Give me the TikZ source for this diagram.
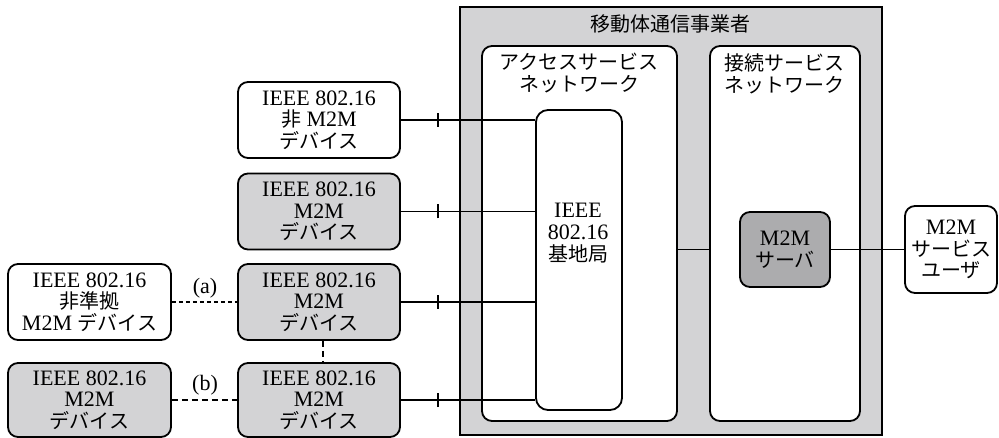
\documentclass[tikz,border=0pt]{standalone}
\usepackage{fontspec}
\setmainfont{Liberation Serif}[Scale=1.1]
\newfontfamily\jp{Noto Sans CJK JP}
\definecolor{lightg}{RGB}{211,211,213}
\definecolor{darkg}{RGB}{172,172,174}
\begin{document}
\begin{tikzpicture}[x=1pt,y=-1pt,
  txt/.style={font=\fontsize{20}{21.7}\selectfont, align=center, inner sep=0pt},
  box/.style={draw, line width=1.8pt, rounded corners=10pt, inner sep=0pt, txt},
  wbox/.style={box, fill=white},
  gbox/.style={box, fill=lightg},
  dev/.style={minimum width=162pt, minimum height=76pt},
  conn/.style={line width=1.8pt},
  dotline/.style={line width=1.8pt, dash pattern=on 4pt off 3pt},
  dashline/.style={line width=1.8pt, dash pattern=on 6pt off 4pt},
  tickmark/.style={line width=1.8pt}
]
\useasboundingbox (0,0) rectangle (999,438);

% operator
\node[draw, line width=1.8pt, fill=lightg, minimum width=422pt, minimum height=428pt, inner sep=0pt] (op) at (671,221) {};
\node[txt] (optitle) at (670,24) {\jp 移動体通信事業者};

% access service network
\node[wbox, minimum width=195pt, minimum height=375pt] (acc) at (579.5,233.5) {};
\node[txt] (acclabel) at (579,73) {\jp アクセスサービス\\\jp ネットワーク};

% connectivity service network
\node[wbox, minimum width=150pt, minimum height=375pt] (con) at (785,233.5) {};
\node[txt] (conlabel) at (784,74) {\jp 接続サービス\\\jp ネットワーク};

% base station
\node[wbox, minimum width=86pt, minimum height=300pt, rounded corners=12pt] (bs) at (579,260) {};
\node[txt] (bslabel) at (578,233) {IEEE\\802.16\\\jp 基地局};

% server and user
\node[box, fill=darkg, minimum width=90pt, minimum height=75pt] (srv) at (785,249.5) {M2M\\\jp サーバ};
\node[wbox, minimum width=92pt, minimum height=87pt] (usr) at (951,249.5) {M2M\\\jp サービス\\\jp ユーザ};

% devices
\node[wbox, dev] (d1) at (319,120) {IEEE 802.16\\{\jp 非} M2M\\\jp デバイス};
\node[gbox, dev] (d2) at (319,211.5) {IEEE 802.16\\M2M\\\jp デバイス};
\node[gbox, dev] (d3) at (319,302) {IEEE 802.16\\M2M\\\jp デバイス};
\node[gbox, dev, minimum height=74pt] (d4) at (319,400) {IEEE 802.16\\M2M\\\jp デバイス};
\node[wbox, dev, minimum width=163pt] (fa) at (89.5,302) {IEEE 802.16\\\jp 非準拠\\M2M {\jp デバイス}};
\node[gbox, dev, minimum width=163pt, minimum height=74pt] (fb) at (89.5,400) {IEEE 802.16\\M2M\\\jp デバイス};

% connectors devices -> base station
\foreach \d in {d1,d2,d3,d4}{
  \draw[conn] (\d.east) -- (\d.east -| bs.west);
  \draw[tickmark] ([xshift=37pt,yshift=-7pt]\d.east) -- ([xshift=37pt,yshift=7pt]\d.east);
}

% access <-> connectivity, server <-> user
\draw[conn] (srv.west -| acc.east) -- (srv.west -| con.west);
\draw[conn] (srv.east) -- (usr.west);

% non-compliant / relay links
\draw[dotline] (fa.east) -- (d3.west);
\draw[dashline] (fb.east) -- (d4.west);
\draw[dashline] ([xshift=4pt]d3.south) -- ([xshift=4pt]d4.north);
\node[txt] (la) at (205,288) {(a)};
\node[txt] (lb) at (205,385) {(b)};
\end{tikzpicture}
\end{document}
